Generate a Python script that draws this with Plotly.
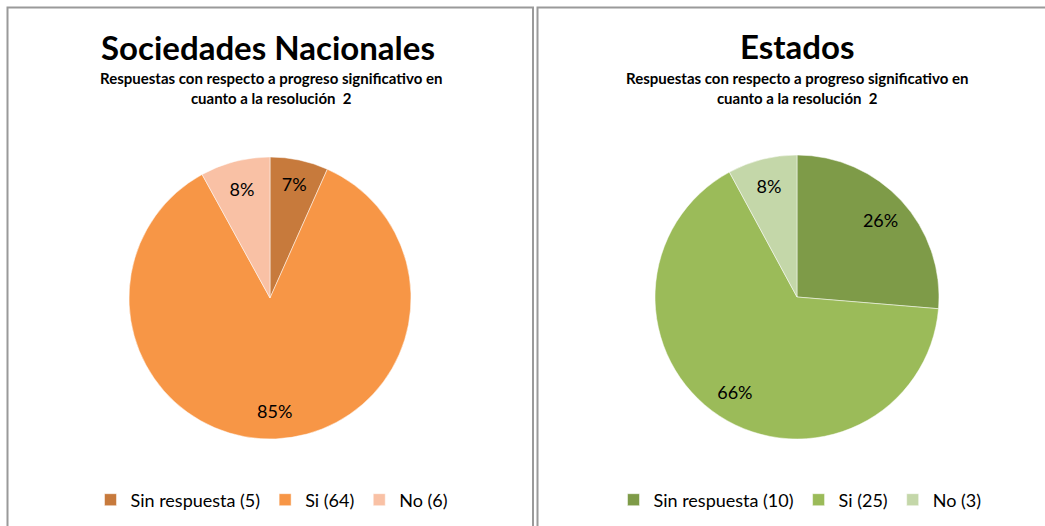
import plotly.graph_objects as go

W, H = 1045, 526

categories = ["Sin respuesta", "Si", "No"]
sn_values = [5, 64, 6]
est_values = [10, 25, 3]
sn_colors = ["#C77A3C", "#F79646", "#F9C1A5"]
est_colors = ["#7E9B48", "#9BBB59", "#C4D7A9"]

FONT = "Lato"

def px(x):
    return x / W

def py(y):
    return 1 - y / H

def labels(vals):
    return [f"{c} ({v})" for c, v in zip(categories, vals)]

def add_pie(vals, colors, dom, leg):
    # filled pie (no text)
    fig.add_trace(go.Pie(
        labels=labels(vals), values=vals, sort=False, direction="clockwise",
        rotation=0, marker=dict(colors=colors, line=dict(color="white", width=0.5)),
        textinfo="none", domain=dom, legend=leg, hoverinfo="label+percent",
    ))
    # transparent ring carrying the percentage labels at ~80% of the radius
    fig.add_trace(go.Pie(
        labels=labels(vals), values=vals, sort=False, direction="clockwise",
        rotation=0, hole=0.6, showlegend=False,
        marker=dict(colors=["rgba(0,0,0,0)"] * len(vals), line=dict(width=0)),
        texttemplate="%{percent:.0%}", textposition="inside",
        insidetextorientation="horizontal",
        textfont=dict(family=FONT, size=18, color="#000"),
        domain=dom, hoverinfo="skip",
    ))

fig = go.Figure()
add_pie(sn_values, sn_colors, dict(x=[px(129), px(411)], y=[py(439), py(157)]), "legend")
add_pie(est_values, est_colors, dict(x=[px(655), px(939)], y=[py(439), py(155)]), "legend2")

annots = [
    dict(text="<b>Sociedades Nacionales</b>", x=px(268), y=py(47), font=dict(size=33)),
    dict(text="<b>Respuestas con respecto a progreso significativo en<br>cuanto a la resolución  2</b>",
         x=px(271), y=py(88), font=dict(size=15)),
    dict(text="<b>Estados</b>", x=px(797), y=py(46), font=dict(size=33)),
    dict(text="<b>Respuestas con respecto a progreso significativo en<br>cuanto a la resolución  2</b>",
         x=px(797), y=py(88), font=dict(size=15)),
]
for a in annots:
    a.update(xref="paper", yref="paper", showarrow=False, xanchor="center", yanchor="middle")
    a["font"].update(family=FONT, color="#000")

shapes = [
    dict(type="rect", xref="paper", yref="paper", x0=px(7.5), x1=px(533), y0=py(540), y1=py(7.5),
         line=dict(color="#9a9a9a", width=2), fillcolor="rgba(0,0,0,0)"),
    dict(type="rect", xref="paper", yref="paper", x0=px(537.5), x1=px(1060), y0=py(540), y1=py(7.5),
         line=dict(color="#9a9a9a", width=2), fillcolor="rgba(0,0,0,0)"),
]

leg_common = dict(orientation="h", xanchor="center", yanchor="middle",
                  font=dict(family=FONT, size=18, color="#000"), bgcolor="rgba(0,0,0,0)",
                  itemwidth=30, itemclick=False, itemdoubleclick=False)

fig.update_layout(
    width=W, height=H, margin=dict(l=0, r=0, t=0, b=0),
    paper_bgcolor="white", plot_bgcolor="white",
    annotations=annots, shapes=shapes,
    legend=dict(x=px(272), y=py(500), **leg_common),
    legend2=dict(x=px(800), y=py(500), **leg_common),
    showlegend=True,
)

fig.write_html("out.html")
